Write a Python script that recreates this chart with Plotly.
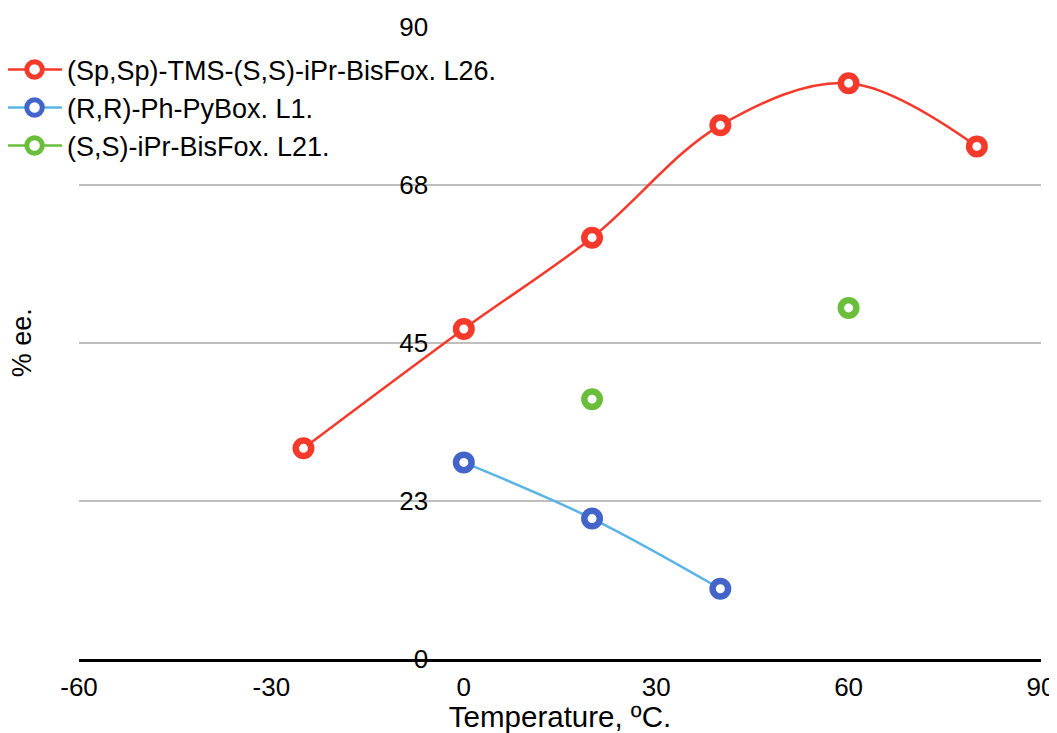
import plotly.graph_objects as go

# temperatures (ºC) and % ee
temp_l26 = [-25, 0, 20, 40, 60, 80]
ee_l26 = [30, 47, 60, 76, 82, 73]

temp_l1 = [0, 20, 40]
ee_l1 = [28, 20, 10]

temp_l21 = [20, 60]
ee_l21 = [37, 50]

x_ticks = [-60, -30, 0, 30, 60, 90]
x_ticktext = ['-60', '-30', '0', '30', '60', '90']
y_ticks = [0, 22.5, 45, 67.5, 90]
y_ticktext = ['0', '23', '45', '68', '90']

FONT = 'Liberation Sans, Arial, Helvetica, sans-serif'


def series(x, y, name, line_color, marker_color, line=True):
    if not line:
        # keep the line in the legend but break it between the points
        xs, ys = [], []
        for i, (a, b) in enumerate(zip(x, y)):
            if i:
                xs.append(None)
                ys.append(None)
            xs.append(a)
            ys.append(b)
        x, y = xs, ys
    return go.Scatter(x=x, y=y, name=name, mode='lines+markers',
                      connectgaps=False,
                      line={'color': line_color, 'width': 2.5,
                            'shape': 'spline', 'smoothing': 1},
                      marker={'size': 15.5, 'color': 'white',
                              'line': {'color': marker_color, 'width': 6.5}},
                      legendgroup=name)


plots = [series(temp_l26, ee_l26, '(Sp,Sp)-TMS-(S,S)-iPr-BisFox. L26.', '#F5392A', '#F5392A'),
         series(temp_l1, ee_l1, '(R,R)-Ph-PyBox. L1.', '#5AB4E5', '#4364C8'),
         series(temp_l21, ee_l21, '(S,S)-iPr-BisFox. L21.', '#6BBE3C', '#6BBE3C', line=False)]

# page body has an 8px margin, so the figure is sized/offset to compensate
plot_layout = go.Layout(width=1049, height=725,
                        plot_bgcolor='white', paper_bgcolor='white',
                        font={'family': FONT, 'size': 26, 'color': 'black'},
                        margin=dict(l=71, r=16, t=19, b=74, autoexpand=False),
                        xaxis={'range': [-60, 90], 'tickvals': x_ticks, 'ticktext': x_ticktext,
                               'showgrid': False, 'zeroline': False,
                               'showline': True, 'linecolor': 'black', 'linewidth': 2.5,
                               'ticks': '', 'automargin': False, 'ticklabelstandoff': 3,
                               'title': {'text': 'Temperature, ºC.', 'standoff': 13,
                                         'font': {'size': 29.5}}},
                        yaxis={'range': [0, 90], 'tickvals': y_ticks, 'ticktext': y_ticktext,
                               'anchor': 'free', 'position': 0.392, 'automargin': False,
                               'showgrid': True, 'gridcolor': '#BFBFBF', 'gridwidth': 2,
                               'zeroline': True, 'zerolinecolor': 'black', 'zerolinewidth': 2.5,
                               'showline': False, 'ticks': '', 'ticklabelstandoff': 28},
                        legend={'x': -0.080, 'y': 0.971,
                                'xanchor': 'left', 'yanchor': 'top',
                                'bgcolor': 'rgba(0,0,0,0)', 'traceorder': 'grouped',
                                'tracegroupgap': 0, 'itemwidth': 55,
                                'font': {'size': 27}},
                        annotations=[dict(text='% ee.', textangle=-90, showarrow=False,
                                          xref='paper', yref='paper', x=-0.059, y=0.5,
                                          xanchor='center', yanchor='middle',
                                          font={'size': 27})])

fig = go.Figure(data=plots, layout=plot_layout)
fig.write_html('out.html')
